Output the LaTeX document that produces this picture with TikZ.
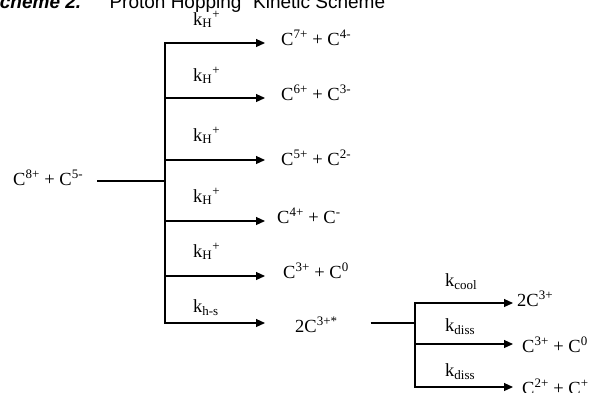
\documentclass[tikz,border=0pt]{standalone}
\usepackage{fontspec}
\setmainfont{Liberation Serif}
\newfontfamily\titlefont{Liberation Sans}
\usetikzlibrary{arrows.meta}
\begin{document}
\begin{tikzpicture}[x=1pt,y=-1pt,
  bar/.style={line width=1.2pt,line cap=rect},
  feed/.style={line width=1.2pt},
  arr/.style={line width=1.2pt,-{Triangle[length=9pt,width=8pt]}},
  chem/.style={inner sep=0pt,anchor=base west,font=\fontsize{18.5}{20}\selectfont},
  rate/.style={inner sep=0pt,anchor=base west,font=\fontsize{18.5}{20}\selectfont},
  ttl/.style={inner sep=0pt,anchor=base west,font=\titlefont\fontsize{19}{22}\selectfont}]
\useasboundingbox (0,0) rectangle (594,392);
\clip (0,0) rectangle (594,392);
% title
\node[ttl] (t1) at (-13,8) {\bfseries\itshape Scheme 2.};
\node[ttl] (t2) at (103,8) {\textquotedblleft Proton Hopping\textquotedblright{} Kinetic Scheme};
% reactant
\node[chem] (r) at (13,185) {C\textsuperscript{8+} + C\textsuperscript{5-}};
\coordinate (j1) at (165,181);
\draw[feed] ([xshift=14pt]r.east |- j1) -- (j1);
% first-stage branch points and arrow ends
\coordinate (b1) at (165,43);  \coordinate (e1) at (265,43);
\coordinate (b2) at (165,98);  \coordinate (e2) at (265,98);
\coordinate (b3) at (165,160); \coordinate (e3) at (265,160);
\coordinate (b4) at (165,221); \coordinate (e4) at (265,221);
\coordinate (b5) at (165,276); \coordinate (e5) at (265,276);
\coordinate (b6) at (165,323); \coordinate (e6) at (265,323);
\draw[bar] (b1) -- (b6);
\foreach \i in {1,...,6} \draw[arr] (b\i) -- (e\i);
% rate labels
\node[rate] (k1) at (193,25)  {k\textsubscript{H}\textsuperscript{+}};
\node[rate] (k2) at (193,81)  {k\textsubscript{H}\textsuperscript{+}};
\node[rate] (k3) at (193,141) {k\textsubscript{H}\textsuperscript{+}};
\node[rate] (k4) at (193,202) {k\textsubscript{H}\textsuperscript{+}};
\node[rate] (k5) at (193,257) {k\textsubscript{H}\textsuperscript{+}};
\node[rate] (k6) at (193,312) {k\textsubscript{h-s}};
% products
\node[chem] (p1) at (281,45)  {C\textsuperscript{7+} + C\textsuperscript{4-}};
\node[chem] (p2) at (281,100) {C\textsuperscript{6+} + C\textsuperscript{3-}};
\node[chem] (p3) at (281,165) {C\textsuperscript{5+} + C\textsuperscript{2-}};
\node[chem] (p4) at (277,223) {C\textsuperscript{4+} + C\textsuperscript{-}};
\node[chem] (p5) at (283,278) {C\textsuperscript{3+} + C\textsuperscript{0}};
\node[chem] (p6) at (295,332) {2C\textsuperscript{3+*}};
% second stage
\coordinate (j2) at (415,323);
\draw[feed] ([xshift=33pt]p6.east |- j2) -- (j2);
\coordinate (c1) at (415,303); \coordinate (f1) at (513,303);
\coordinate (c2) at (415,344); \coordinate (f2) at (513,344);
\coordinate (c3) at (415,387); \coordinate (f3) at (513,387);
\draw[bar] (c1) -- (c3);
\foreach \i in {1,2,3} \draw[arr] (c\i) -- (f\i);
\node[rate] (q1) at (445,286) {k\textsubscript{cool}};
\node[rate] (q2) at (445,331) {k\textsubscript{diss}};
\node[rate] (q3) at (445,376) {k\textsubscript{diss}};
\node[chem] (d1) at (517,306) {2C\textsuperscript{3+}};
\node[chem] (d2) at (522,352) {C\textsuperscript{3+} + C\textsuperscript{0}};
\node[chem] (d3) at (522,394) {C\textsuperscript{2+} + C\textsuperscript{+}};
\end{tikzpicture}
\end{document}
